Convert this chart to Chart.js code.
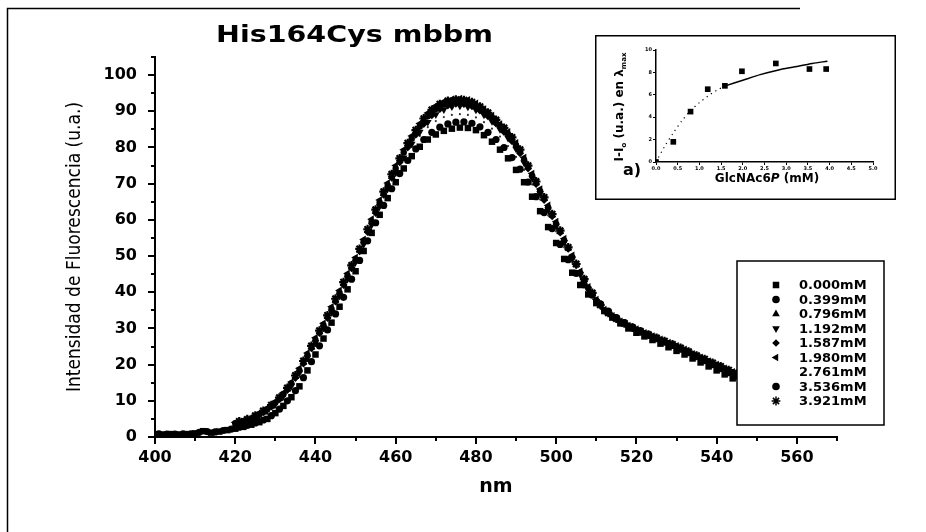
<!DOCTYPE html>
<html>
<head>
<meta charset="utf-8">
<script src="https://cdn.jsdelivr.net/npm/chart.js"></script>
<style>
html, body { margin: 0; padding: 0; background: #fff; }
#wrap { position: relative; width: 926px; height: 532px; overflow: hidden; }
#main { position: absolute; left: 0; top: 0; }
#inset { position: absolute; left: 595px; top: 35px; }
</style>
</head>
<body>
<div id="wrap">
  <canvas id="main" width="926" height="532"></canvas>
  <canvas id="inset" width="301" height="165"></canvas>
</div>
<script>
// wavelengths (nm), two interleaved grids
var waveEven = [400,402,404,406,408,410,412,414,416,418,420,422,424,426,428,430,432,434,436,438,
  440,442,444,446,448,450,452,454,456,458,460,462,464,466,468,470,472,474,476,478,
  480,482,484,486,488,490,492,494,496,498,500,502,504,506,508,510,512,514,516,518,
  520,522,524,526,528,530,532,534,536,538,540,542,544,546,548,550];
var waveOdd = [401,403,405,407,409,411,413,415,417,419,421,423,425,427,429,431,433,435,437,439,
  441,443,445,447,449,451,453,455,457,459,461,463,465,467,469,471,473,475,477,479,
  481,483,485,487,489,491,493,495,497,499,501,503,505,507,509,511,513,515,517,519,
  521,523,525,527,529,531,533,535,537,539,541,543,545,547,549];

var yTicks = [0,10,20,30,40,50,60,70,80,90,100];
var xTicks = [400,420,440,460,480,500,520,540,560];

var concLabels = ['0.000mM','0.399mM','0.796mM','1.192mM','1.587mM','1.980mM','2.761mM','3.536mM','3.921mM'];

// 0.000 mM (even grid)
var c0000 = [0.8,0.7,0.8,0.7,0.8,1.0,1.6,1.2,1.5,1.9,
  2.3,2.8,3.4,4.1,5.0,6.6,8.6,11.0,14.0,18.4,
  22.8,27.2,31.6,36.0,40.8,45.8,51.4,56.4,61.4,66.0,
  70.4,74.2,77.6,80.2,82.2,83.6,84.6,85.2,85.5,85.4,
  84.8,83.4,81.6,79.4,77.0,73.8,70.4,66.4,62.4,58.0,
  53.6,49.2,45.4,42.0,39.4,37.0,34.8,33.0,31.4,30.0,
  28.8,27.8,26.8,25.8,24.8,23.8,22.8,21.7,20.6,19.5,
  18.4,17.3,16.2,15.3,14.5,13.8];
// 0.399 mM (odd grid)
var c0399 = [0.9,0.8,0.8,0.9,0.9,1.3,1.5,1.4,1.8,2.2,
  2.7,3.2,3.9,4.7,5.9,7.7,10.0,12.8,16.4,20.8,
  25.2,29.6,34.0,38.6,43.6,48.8,54.2,59.2,64.0,68.6,
  72.8,76.4,79.6,82.2,84.2,85.6,86.5,87.0,87.1,86.7,
  85.7,84.2,82.2,80.0,77.2,74.0,70.4,66.4,62.0,57.6,
  53.2,49.0,45.2,42.0,39.2,36.8,34.8,33.0,31.6,30.4,
  29.3,28.3,27.3,26.3,25.3,24.3,23.3,22.2,21.1,20.0,
  18.9,17.8,16.8,15.9,15.1];
// 0.796 mM (odd grid)
var c0796 = [null,null,null,null,null,null,null,null,null,null,
  4.1,4.7,5.6,6.9,8.5,10.6,13.2,16.6,20.6,24.8,
  29.0,33.2,37.7,42.3,46.9,51.6,57.0,62.3,67.3,72.0,
  76.4,80.5,84.0,87.0,89.4,91.1,92.1,92.5,92.4,91.8,
  90.6,89.0,87.0,84.7,82.1,78.8,74.6,70.2,65.8,61.3,
  56.7,52.2,47.6,43.5,39.7,36.5,34.3,32.7,31.4,30.2,
  29.2,28.2,27.3,26.4,25.5,24.5,23.5,22.4,21.4,20.4,
  19.4,18.4,17.4,16.5,15.7];
// 1.192 mM (even grid)
var c1192 = [null,null,null,null,null,null,null,null,null,null,
  3.6,4.2,4.9,6.0,7.4,9.1,11.4,14.2,17.8,21.9,
  26.1,30.2,34.6,39.1,43.8,48.3,53.2,58.6,63.8,68.6,
  73.0,77.2,81.0,84.3,87.0,89.1,90.5,91.3,91.5,91.2,
  90.4,89.0,87.2,85.0,82.6,79.6,75.8,71.6,67.3,62.8,
  58.3,53.8,49.3,45.0,40.9,37.5,34.9,33.2,31.7,30.5,
  29.5,28.5,27.6,26.7,25.8,24.9,23.9,22.8,21.8,20.8,
  19.8,18.8,17.8,16.8,16.0,15.2];
// 1.587 mM (odd grid)
var c1587 = [null,null,null,null,null,null,null,null,null,null,
  3.9,4.5,5.4,6.7,8.3,10.3,12.9,16.2,20.2,24.4,
  28.6,32.8,37.3,41.9,46.5,51.2,56.5,61.8,66.8,71.5,
  75.8,79.9,83.4,86.4,88.8,90.5,91.5,92.0,91.9,91.3,
  90.1,88.5,86.5,84.2,81.6,78.3,74.1,69.8,65.4,60.9,
  56.4,51.9,47.4,43.3,39.6,36.5,34.3,32.7,31.4,30.2,
  29.2,28.2,27.3,26.4,25.5,24.5,23.5,22.4,21.4,20.4,
  19.4,18.4,17.4,16.5,15.7];
// 1.980 mM (even grid)
var c1980 = [null,null,null,null,null,null,null,null,null,null,
  4.0,4.6,5.3,6.6,8.0,9.8,12.2,15.2,19.0,23.2,
  27.4,31.4,36.0,40.5,45.2,49.6,54.6,60.2,65.5,70.2,
  75.0,79.4,83.2,86.6,89.5,91.5,92.7,93.3,93.5,93.2,
  92.2,90.6,88.8,86.5,84.3,81.3,77.2,72.8,68.5,64.0,
  59.5,54.8,50.2,45.8,41.5,38.0,35.2,33.5,32.0,30.8,
  29.8,28.8,27.9,27.0,26.1,25.2,24.2,23.0,22.0,21.0,
  20.0,19.0,18.0,17.0,16.2,15.4];
// 2.761 mM (even grid)
var c2761 = [0.9,0.8,0.9,0.8,0.9,1.1,1.7,1.4,1.8,2.3,
  2.9,3.5,4.2,5.2,6.4,8.2,10.4,13.2,16.6,21.0,
  25.2,29.4,33.8,38.4,43.0,48.0,53.2,58.4,63.4,68.2,
  72.6,76.6,80.2,83.2,85.6,87.3,88.4,89.0,89.2,89.0,
  88.3,87.0,85.2,83.0,80.4,77.4,73.8,69.8,65.6,61.2,
  56.8,52.4,48.2,44.2,40.6,37.6,35.2,33.4,31.9,30.6,
  29.5,28.5,27.5,26.6,25.6,24.6,23.6,22.6,21.5,20.4,
  19.3,18.2,17.2,16.3,15.5,14.7];
// 3.536 mM (even grid)
var c3536 = [null,null,null,null,null,null,null,null,null,null,
  3.8,4.4,5.1,6.3,7.7,9.5,11.8,14.7,18.4,22.6,
  26.8,30.9,35.4,39.9,44.6,49.0,54.0,59.5,64.8,69.6,
  74.2,78.6,82.4,85.8,88.6,90.6,91.9,92.6,92.8,92.5,
  91.6,90.1,88.3,86.0,83.7,80.6,76.6,72.2,67.9,63.4,
  58.9,54.3,49.7,45.3,41.1,37.7,35.0,33.3,31.8,30.6,
  29.6,28.6,27.7,26.8,25.9,25.0,24.0,22.9,21.9,20.9,
  19.9,18.9,17.9,16.9,16.1,15.3];
// 3.921 mM (odd grid)
var c3921 = [null,null,null,null,null,null,null,null,null,null,
  4.3,4.9,5.9,7.2,8.8,10.9,13.6,17.0,21.0,25.2,
  29.4,33.6,38.2,42.8,47.4,52.0,57.4,62.8,67.8,72.6,
  77.0,81.2,84.8,88.0,90.4,92.0,92.9,93.2,93.1,92.5,
  91.3,89.6,87.6,85.4,82.8,79.4,75.0,70.6,66.2,61.6,
  57.0,52.4,47.8,43.6,39.8,36.5,34.3,32.7,31.4,30.2,
  29.2,28.3,27.4,26.5,25.6,24.6,23.6,22.5,21.5,20.5,
  19.5,18.5,17.5,16.6,15.8];

// inset: I - I0 at lambda max vs GlcNAc6P
var insetConc = [0, 0.399, 0.796, 1.192, 1.587, 1.980, 2.761, 3.536, 3.921];
var insetDelta = [0, 1.8, 4.5, 6.5, 6.8, 8.1, 8.8, 8.3, 8.3];
var fitDotX = [0, 0.2, 0.4, 0.6, 0.8, 1.0, 1.2, 1.4, 1.6];
var fitDotY = [0, 1.4, 2.6, 3.7, 4.6, 5.3, 5.9, 6.4, 6.8];
var fitLineX = [1.6, 2.0, 2.4, 2.8, 3.2, 3.6, 3.95];
var fitLineY = [6.8, 7.3, 7.8, 8.2, 8.5, 8.8, 9.0];

function pts(xs, ys) {
  var out = [];
  for (var i = 0; i < xs.length; i++) {
    if (ys[i] !== null) out.push({x: xs[i], y: ys[i]});
  }
  return out;
}

var seriesDefs = [
  {ys: c0000, xs: waveEven, style: 'rect',     rot: 0,   r: 4.6, bw: 0,   col: '#000'},
  {ys: c0399, xs: waveOdd,  style: 'circle',   rot: 0,   r: 3.6, bw: 0,   col: '#000'},
  {ys: c0796, xs: waveOdd,  style: 'triangle', rot: 0,   r: 4.4, bw: 0,   col: '#000'},
  {ys: c1192, xs: waveEven, style: 'triangle', rot: 180, r: 4.4, bw: 0,   col: '#000'},
  {ys: c1587, xs: waveOdd,  style: 'rectRot',  rot: 0,   r: 3.6, bw: 0,   col: '#000'},
  {ys: c1980, xs: waveEven, style: 'triangle', rot: -90, r: 4.4, bw: 0,   col: '#000'},
  {ys: c2761, xs: waveEven, style: 'circle',   rot: 0,   r: 1.1, bw: 0,   col: '#333'},
  {ys: c3536, xs: waveEven, style: 'circle',   rot: 0,   r: 3.2, bw: 0,   col: '#000'},
  {ys: c3921, xs: waveOdd,  style: 'star',     rot: 0,   r: 4.4, bw: 2.2, col: '#000'}
];

var datasets = seriesDefs.map(function (s, i) {
  return {
    label: concLabels[i],
    data: pts(s.xs, s.ys),
    showLine: false,
    pointStyle: s.style,
    pointRotation: s.rot,
    pointRadius: s.r,
    pointBorderWidth: s.bw,
    pointBackgroundColor: s.col,
    pointBorderColor: s.col
  };
});

var tickFont = {family: 'DejaVu Sans', size: 16, weight: 'bold'};

var decor = {
  id: 'decor',
  beforeDraw: function (chart) {
    var ctx = chart.ctx;
    ctx.save();
    ctx.fillStyle = '#fff';
    ctx.fillRect(0, 0, chart.width, chart.height);
    ctx.restore();
  },
  afterDraw: function (chart) {
    var ctx = chart.ctx;
    var xs = chart.scales.x, ys = chart.scales.y;
    var base = chart.chartArea.bottom, left = chart.chartArea.left;
    ctx.save();
    ctx.strokeStyle = '#000';
    ctx.fillStyle = '#000';

    // page frame
    ctx.lineWidth = 1.5;
    ctx.beginPath();
    ctx.moveTo(7.5, 532);
    ctx.lineTo(7.5, 8.5);
    ctx.lineTo(800, 8.5);
    ctx.stroke();

    // tick marks, major and minor
    ctx.lineWidth = 2;
    ctx.beginPath();
    for (var v = 400; v <= 570; v += 10) {
      var px = Math.round(xs.getPixelForValue(v));
      ctx.moveTo(px, base);
      ctx.lineTo(px, base + (v % 20 === 0 ? 7 : 4));
    }
    for (var w = 0; w <= 105; w += 5) {
      var py = Math.round(ys.getPixelForValue(w));
      ctx.moveTo(left, py);
      ctx.lineTo(left - (w % 10 === 0 ? 7 : 4), py);
    }
    ctx.stroke();

    // title
    ctx.font = 'bold 23px "DejaVu Sans"';
    ctx.textBaseline = 'alphabetic';
    ctx.textAlign = 'left';
    var title = 'His164Cys mbbm';
    var tw = ctx.measureText(title).width;
    ctx.save();
    ctx.translate(216, 42);
    ctx.scale(277 / tw, 1);
    ctx.fillText(title, 0, 0);
    ctx.restore();

    // legend box
    ctx.fillStyle = '#fff';
    ctx.fillRect(737, 261, 147, 164);
    ctx.lineWidth = 1.5;
    ctx.strokeRect(737, 261, 147, 164);
    ctx.font = 'bold 13px "DejaVu Sans"';
    ctx.textBaseline = 'middle';
    for (var i = 0; i < concLabels.length; i++) {
      var ry = 285 + i * 14.5;
      var s = seriesDefs[i];
      ctx.fillStyle = '#000';
      ctx.strokeStyle = '#000';
      if (i !== 6) {
        Chart.helpers.drawPoint(ctx, {pointStyle: s.style, rotation: s.rot, radius: Math.max(s.r, 3.8), borderWidth: s.bw}, 776, ry);
      }
      ctx.fillStyle = '#000';
      ctx.fillText(concLabels[i], 799, ry + 1);
    }
    ctx.restore();
  }
};

new Chart(document.getElementById('main'), {
  type: 'scatter',
  data: {datasets: datasets},
  options: {
    responsive: false,
    animation: false,
    layout: {padding: {left: 0, top: 57, right: 89, bottom: 0}},
    plugins: {legend: {display: false}, tooltip: {enabled: false}, title: {display: false}},
    scales: {
      x: {
        type: 'linear', min: 400, max: 570,
        afterFit: function (s) { s.height = 95; },
        afterBuildTicks: function (s) { s.ticks = xTicks.map(function (v) { return {value: v}; }); },
        border: {display: true, color: '#000', width: 2},
        grid: {display: false, drawTicks: false},
        ticks: {padding: 11, color: '#000', font: tickFont, maxRotation: 0, autoSkip: false},
        title: {display: true, text: 'nm', color: '#000', font: {family: 'DejaVu Sans', size: 19, weight: 'bold'}, padding: {top: 0, bottom: 34}}
      },
      y: {
        type: 'linear', min: 0, max: 105,
        afterFit: function (s) { s.width = 155; },
        afterBuildTicks: function (s) { s.ticks = yTicks.map(function (v) { return {value: v}; }); },
        border: {display: true, color: '#000', width: 2},
        grid: {display: false, drawTicks: false},
        ticks: {padding: 18, color: '#000', font: tickFont, autoSkip: false},
        title: {
          display: true, text: 'Intensidad de Fluorescencia (u.a.)', color: '#000',
          font: {family: "'Liberation Sans Narrow', 'DejaVu Sans Condensed', 'Arial Narrow', sans-serif", size: 19},
          padding: {top: 64, bottom: 0}
        }
      }
    }
  },
  plugins: [decor]
});

// ---------- inset ----------
var insetDecor = {
  id: 'insetDecor',
  beforeDraw: function (chart) {
    var ctx = chart.ctx;
    ctx.save();
    ctx.fillStyle = '#fff';
    ctx.fillRect(0, 0, chart.width, chart.height);
    ctx.restore();
  },
  afterDraw: function (chart) {
    var ctx = chart.ctx;
    ctx.save();
    ctx.strokeStyle = '#000';
    ctx.fillStyle = '#000';
    ctx.lineWidth = 1.5;
    ctx.strokeRect(0.75, 0.75, chart.width - 1.5, chart.height - 1.5);

    // a)
    ctx.font = 'bold 16px "DejaVu Sans"';
    ctx.textBaseline = 'alphabetic';
    ctx.fillText('a)', 28, 140);

    // x title with italic P
    var y0 = 147;
    var p1 = 'GlcNAc6', p2 = 'P', p3 = ' (mM)';
    ctx.font = 'bold 12px "DejaVu Sans"';
    var w1 = ctx.measureText(p1).width, w3 = ctx.measureText(p3).width;
    ctx.font = 'italic bold 12px "DejaVu Sans"';
    var w2 = ctx.measureText(p2).width;
    var x0 = 172 - (w1 + w2 + w3) / 2;
    ctx.font = 'bold 12px "DejaVu Sans"';
    ctx.fillText(p1, x0, y0);
    ctx.font = 'italic bold 12px "DejaVu Sans"';
    ctx.fillText(p2, x0 + w1, y0);
    ctx.font = 'bold 12px "DejaVu Sans"';
    ctx.fillText(p3, x0 + w1 + w2, y0);

    // rotated y title: I-I0 (u.a.) en λmax
    var parts = [
      {t: 'I-I', sub: false}, {t: 'o', sub: true},
      {t: ' (u.a.) en \u03BB', sub: false}, {t: 'max', sub: true}
    ];
    var big = 'bold 12px "DejaVu Sans"', small = 'bold 7px "DejaVu Sans"';
    var total = 0;
    parts.forEach(function (p) { ctx.font = p.sub ? small : big; p.w = ctx.measureText(p.t).width; total += p.w; });
    ctx.translate(28, 72);
    ctx.rotate(-Math.PI / 2);
    var cx = -total / 2;
    parts.forEach(function (p) {
      ctx.font = p.sub ? small : big;
      ctx.fillText(p.t, cx, p.sub ? 3 : 0);
      cx += p.w;
    });
    ctx.restore();
  }
};

var tinyFont = {family: 'DejaVu Sans', size: 5, weight: 'bold'};

new Chart(document.getElementById('inset'), {
  type: 'scatter',
  data: {
    datasets: [
      {data: pts(insetConc, insetDelta), showLine: false, pointStyle: 'rect', pointRadius: 4,
       pointBackgroundColor: '#000', pointBorderWidth: 0},
      {data: pts(fitDotX, fitDotY), showLine: true, borderColor: '#000', borderWidth: 1.2,
       borderDash: [1.2, 4], pointRadius: 0, tension: 0.3},
      {data: pts(fitLineX, fitLineY), showLine: true, borderColor: '#000', borderWidth: 1.5,
       pointRadius: 0, tension: 0.3}
    ]
  },
  options: {
    responsive: false,
    animation: false,
    layout: {padding: {left: 0, top: 15, right: 23, bottom: 0}},
    plugins: {legend: {display: false}, tooltip: {enabled: false}},
    scales: {
      x: {
        type: 'linear', min: 0, max: 5,
        afterFit: function (s) { s.height = 38; },
        border: {display: true, color: '#000', width: 1.5},
        grid: {display: true, drawOnChartArea: false, tickLength: 3, color: '#000', lineWidth: 1},
        ticks: {stepSize: 0.5, padding: 1, color: '#000', font: tinyFont, maxRotation: 0, autoSkip: false,
          callback: function (v) { return v.toFixed(1); }}
      },
      y: {
        type: 'linear', min: 0, max: 10,
        afterFit: function (s) { s.width = 61; },
        border: {display: true, color: '#000', width: 1.5},
        grid: {display: true, drawOnChartArea: false, tickLength: 3, color: '#000', lineWidth: 1},
        ticks: {stepSize: 2, padding: 1, color: '#000', font: tinyFont}
      }
    }
  },
  plugins: [insetDecor]
});
</script>
</body>
</html>
